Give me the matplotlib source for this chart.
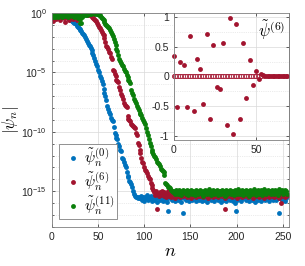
import numpy as np
import matplotlib
matplotlib.use("Agg")
import matplotlib.pyplot as plt
from matplotlib.ticker import FixedLocator, NullFormatter

plt.rcParams['font.family'] = ['Liberation Sans', 'DejaVu Sans']
plt.rcParams['mathtext.fontset'] = 'custom'
plt.rcParams['mathtext.rm'] = 'Liberation Sans'
plt.rcParams['mathtext.it'] = 'Liberation Sans:italic'

# log10 |psi_n| for n = 0..255
log_psi0 = [
    -0.1, -0.15, -0.1, -0.1, -0.12, -0.1, -0.15, -0.12, -0.15, -0.12, -0.18, -0.15, -0.2, -0.22, -0.28, -0.32,
    -0.35, -0.4, -0.45, -0.5, -0.55, -0.6, -0.65, -0.72, -0.8, -0.85, -0.95, -1.05, -1.15, -1.25, -1.35, -1.45,
    -1.55, -1.65, -1.75, -1.85, -2.0, -2.15, -2.35, -2.5, -2.65, -2.8, -2.95, -3.15, -3.35, -3.55, -3.8, -4.0,
    -4.25, -4.5, -4.8, -5.0, -5.3, -5.5, -5.75, -6.0, -6.4, -6.7, -7.0, -7.35, -7.8, -8.1, -8.3, -8.5,
    -8.8, -9.0, -9.1, -9.6, -10.1, -10.3, -10.5, -10.6, -11.0, -11.2, -11.5, -11.6, -12.2, -12.3, -12.5, -12.8,
    -13.0, -13.4, -13.7, -13.8, -14.1, -14.2, -14.4, -14.6, -15.0, -15.2, -15.4, -15.5, -15.5, -15.6, -15.5, -15.6,
    -15.6, -15.4, -15.7, -15.5, -15.8, -15.5, -15.6, -15.3, -15.7, -15.5, -15.6, -15.4, -15.8, -15.6, -15.5, -15.7,
    -15.4, -15.6, -15.9, -15.5, -15.3, -15.7, -15.6, -15.5, -15.8, -15.4, -15.6, -15.5, -15.7, -15.9, -16.7, -15.5,
    -15.6, -15.3, -15.7, -15.5, -15.4, -15.8, -15.6, -15.2, -15.5, -15.7, -15.4, -15.6, -15.9, -15.5, -16.8, -15.6,
    -15.4, -15.7, -15.5, -15.3, -15.6, -15.8, -15.5, -15.4, -15.7, -15.6, -15.2, -15.5, -15.8, -15.6, -15.4, -15.7,
    -15.5, -15.6, -15.3, -15.8, -15.5, -15.7, -15.4, -15.6, -15.9, -15.5, -15.3, -15.6, -15.7, -15.4, -15.6, -15.5,
    -15.8, -15.4, -15.6, -15.3, -15.7, -15.5, -15.6, -15.9, -15.4, -15.5, -15.7, -15.3, -15.6, -15.8, -15.5, -15.4,
    -15.6, -15.7, -15.3, -15.5, -15.8, -15.6, -16.0, -16.7, -15.4, -15.7, -15.5, -15.3, -15.6, -15.8, -15.4, -15.6,
    -15.5, -15.3, -15.7, -15.6, -15.4, -15.8, -15.5, -15.2, -15.6, -15.7, -15.4, -15.5, -15.9, -15.6, -15.3, -15.7,
    -15.5, -15.6, -15.4, -15.8, -15.3, -15.6, -15.5, -15.7, -15.4, -15.6, -15.2, -15.8, -15.5, -15.6, -15.4, -15.7,
    -15.6, -15.3, -15.5, -15.7, -15.4, -15.6, -16.8, -15.5, -15.3, -15.7, -15.6, -15.4, -15.8, -15.5, -15.6, -15.4,
]

log_psi6 = [
    -0.3, -0.7, -0.2, -0.25, -0.15, -0.5, -0.1, -0.35, -0.2, -0.6, -0.15, -0.3, -0.25, -0.45, -0.75, -0.2,
    -0.1, -0.4, -0.2, -0.55, -0.15, -0.3, -0.1, -0.5, -0.2, -0.25, -0.1, -0.6, -0.15, -0.35, -0.05, -0.2,
    -0.05, -0.1, 0.0, -0.05, -0.02, -0.1, -0.05, -0.15, -0.1, -0.2, -0.15, -0.3, -0.25, -0.4, -0.5, -0.6,
    -0.7, -0.85, -1.0, -1.15, -1.3, -1.45, -1.6, -1.75, -1.85, -2.1, -2.4, -2.8, -2.9, -3.0, -3.25, -3.4,
    -3.7, -3.9, -4.8, -4.9, -5.1, -5.3, -5.6, -5.7, -5.8, -6.2, -6.5, -6.8, -7.0, -7.2, -7.6, -7.7,
    -7.8, -7.9, -8.7, -8.9, -9.0, -9.1, -9.3, -9.4, -9.5, -9.6, -9.7, -10.1, -10.3, -10.9, -11.1, -11.5,
    -11.8, -12.2, -12.5, -12.6, -13.0, -13.2, -13.3, -13.5, -13.7, -13.9, -14.0, -14.3, -14.5, -14.7, -14.9, -15.1,
    -15.3, -15.0, -16.5, -15.2, -15.4, -15.1, -15.3, -15.0, -15.2, -15.4, -15.1, -15.3, -15.5, -15.2, -15.0, -15.4,
    -15.2, -15.5, -15.3, -15.1, -15.4, -15.6, -15.2, -15.3, -15.0, -15.4, -15.2, -15.5, -15.3, -15.1, -15.4, -15.2,
    -15.3, -15.1, -15.5, -15.2, -15.4, -15.3, -15.0, -15.6, -15.2, -15.4, -15.3, -15.1, -15.5, -15.2, -15.3, -15.4,
    -15.2, -15.4, -15.1, -15.3, -15.5, -15.2, -15.0, -15.4, -15.3, -15.6, -15.2, -15.1, -15.4, -15.3, -15.5, -15.2,
    -15.3, -15.1, -15.4, -15.2, -15.5, -15.3, -15.0, -15.2, -15.4, -15.1, -15.3, -15.6, -16.5, -15.2, -15.4, -15.3,
    -15.1, -15.4, -15.2, -15.5, -15.3, -15.0, -15.4, -15.2, -15.6, -15.3, -15.1, -15.4, -15.2, -15.3, -15.5, -15.1,
    -15.4, -15.2, -15.3, -15.1, -15.5, -15.2, -15.4, -15.3, -15.0, -15.2, -15.6, -15.3, -15.1, -15.4, -15.2, -15.3,
    -15.5, -15.2, -15.3, -15.1, -15.4, -15.2, -15.6, -15.3, -15.0, -15.4, -15.2, -15.5, -15.3, -15.1, -15.4, -15.2,
    -15.3, -15.5, -15.2, -15.4, -15.1, -15.3, -15.6, -15.2, -16.0, -15.4, -15.3, -15.1, -15.5, -15.2, -15.4, -15.3,
]

log_psi11 = [
    -0.2, -0.3, -0.15, -0.35, -0.1, -0.25, -0.2, -0.3, -0.15, -0.2, -0.1, -0.3, -0.2, -0.15, -0.25, -0.1,
    -0.2, -0.1, -0.3, -0.15, -0.2, -0.1, -0.25, -0.15, -0.3, -0.1, -0.2, -0.15, -0.4, -0.2, -0.5, -0.85,
    -0.85, -0.3, -0.2, -0.15, -0.1, -0.2, -0.15, -0.1, -0.05, -0.1, -0.05, -0.02, 0.0, -0.02, 0.0, -0.05,
    0.0, -0.05, -0.1, -0.15, -0.2, -0.3, -0.4, -0.5, -0.6, -0.75, -0.9, -1.0, -1.1, -1.2, -1.3, -1.45,
    -1.6, -1.8, -1.95, -2.2, -2.4, -2.7, -3.0, -3.2, -3.5, -3.9, -4.05, -4.2, -4.35, -4.5, -4.7, -4.85,
    -5.0, -5.2, -5.4, -5.6, -5.75, -5.9, -6.5, -6.7, -6.9, -7.2, -7.4, -7.6, -7.8, -8.0, -8.2, -8.4,
    -8.5, -8.6, -8.8, -9.0, -9.2, -9.3, -9.7, -10.0, -10.3, -10.6, -10.9, -11.2, -11.5, -11.7, -11.9, -12.0,
    -12.1, -12.3, -12.5, -12.6, -12.7, -12.9, -13.1, -13.2, -13.3, -13.4, -13.6, -14.3, -14.4, -14.5, -14.6, -14.6,
    -14.7, -14.9, -15.0, -15.1, -15.0, -15.2, -14.9, -15.1, -15.0, -15.2, -14.9, -15.1, -15.3, -15.0, -14.9, -15.1,
    -15.0, -15.2, -14.9, -15.1, -15.3, -15.0, -15.1, -14.9, -15.2, -15.0, -15.1, -15.3, -14.9, -15.0, -15.2, -15.1,
    -14.9, -15.1, -15.0, -15.2, -15.4, -15.0, -14.9, -15.1, -15.2, -15.0, -14.8, -15.1, -15.3, -15.0, -15.1, -14.9,
    -15.2, -15.0, -15.1, -14.9, -15.3, -15.1, -15.0, -15.2, -14.9, -15.1, -15.0, -15.4, -15.1, -14.9, -15.2, -15.0,
    -15.1, -14.9, -15.2, -15.0, -15.1, -15.3, -14.9, -15.0, -15.2, -15.1, -14.8, -15.0, -15.2, -15.1, -14.9, -15.3,
    -15.0, -15.1, -14.9, -15.2, -15.0, -15.4, -15.1, -14.9, -15.0, -15.2, -15.1, -14.8, -15.0, -15.3, -15.1, -14.9,
    -15.2, -15.0, -14.9, -15.1, -15.3, -15.0, -14.8, -15.1, -15.2, -15.0, -14.9, -15.1, -15.0, -15.2, -14.9, -15.1,
    -15.0, -15.2, -14.9, -15.1, -15.0, -15.3, -14.8, -15.0, -15.1, -14.9, -15.2, -15.0, -15.1, -14.9, -15.0, -15.2,
]

# inset: psi~(6), nonzero values at even n = 0..52, then small tail n = 53..69
inset_even = [0.34, -0.52, 0.24, 0.2, -0.52, 0.68, -0.58, 0.29, 0.12, -0.47, 0.71, -0.71, 0.53, -0.18,
              -0.21, 0.57, -0.82, 0.98, -0.97, 0.88, -0.71, 0.56, -0.37, 0.27, -0.15, 0.1, -0.04]
inset_tail = [0.05, 0.02, 0.01, 0.01, 0.0, 0.01, 0.0, 0.0, 0.01, 0.0, 0.0, 0.0, 0.0, 0.0, 0.0, 0.0, 0.0]

blue = '#0072BD'
red = '#A2142F'
green = '#0B7F0B'
gridc = '#d9d9d9'

n = np.arange(len(log_psi0))

fig = plt.figure(figsize=(3.05, 2.66), dpi=100)
ax = fig.add_axes([0.170, 0.147, 0.778, 0.804])

ms = 3.5
ax.plot(n, 10.0 ** np.array(log_psi0), 'o', color=blue, ms=ms, mew=0, label=r'$\tilde{\psi}_n^{(0)}$')
ax.plot(n, 10.0 ** np.array(log_psi6), 'o', color=red, ms=ms, mew=0, label=r'$\tilde{\psi}_n^{(6)}$')
ax.plot(n, 10.0 ** np.array(log_psi11), 'o', color=green, ms=ms, mew=0, label=r'$\tilde{\psi}_n^{(11)}$')

ax.set_yscale('log')
ax.set_xlim(0, 257)
ax.set_ylim(1e-18, 1.0)
ax.yaxis.set_major_locator(FixedLocator([1e-15, 1e-10, 1e-5, 1.0]))
ax.yaxis.set_minor_locator(FixedLocator([10.0 ** k for k in range(-18, 1) if k % 5 != 0]))
ax.yaxis.set_minor_formatter(NullFormatter())
ax.set_yticklabels([r'$10^{-15}$', r'$10^{-10}$', r'$10^{-5}$', r'$10^{0}$'])
ax.set_xticks([0, 50, 100, 150, 200, 250])
ax.tick_params(which='both', direction='in', top=True, right=True, labelsize=7.5,
               colors='#262626', length=2.5, width=0.5)
ax.tick_params(which='minor', length=1.5)
ax.grid(True, which='major', color=gridc, lw=0.5)
ax.grid(True, which='minor', axis='y', color=gridc, lw=0.5, ls=':')
for s in ax.spines.values():
    s.set_color('#808080')
    s.set_linewidth(0.6)

ax.set_xlabel(r'$n$', fontsize=13, math_fontfamily='cm', labelpad=1)
ax.set_ylabel(r'$|\psi_n|$', fontsize=12, math_fontfamily='cm', labelpad=0)

leg = ax.legend(loc='lower left', bbox_to_anchor=(0.03, 0.035), prop={'size': 11},
                handletextpad=0.0, handlelength=1.5, borderpad=0.15, labelspacing=0.1,
                borderaxespad=0, fancybox=False, framealpha=1, edgecolor='#808080')
for t in leg.get_texts():
    t.set_math_fontfamily('cm')
leg.get_frame().set_linewidth(0.6)

# inset
ins = fig.add_axes([0.570, 0.474, 0.378, 0.477])
n_open = np.arange(0, 54)
ins.plot(n_open, np.zeros(len(n_open)), 'o', mfc='white', mec=red, ms=3.0, mew=0.6, clip_on=False)
n_even = np.arange(0, 2 * len(inset_even), 2)
ins.plot(n_even, inset_even, 'o', color=red, ms=ms, mew=0, clip_on=False)
n_tail = np.arange(53, 53 + len(inset_tail))
ins.plot(n_tail, inset_tail, 'o', color=red, ms=ms, mew=0)
ins.set_xlim(0, 70)
ins.set_ylim(-1.07, 1.07)
ins.set_xticks([0, 50])
ins.set_yticks([-1, -0.5, 0, 0.5, 1])
ins.set_yticklabels(['-1', '-0.5', '0', '0.5', '1'])
ins.yaxis.set_minor_locator(FixedLocator([-0.75, -0.25, 0.25, 0.75]))
ins.tick_params(which='both', direction='in', top=True, right=True, labelsize=7.5,
                colors='#262626', length=2.5, width=0.5)
ins.tick_params(which='minor', length=0)
ins.grid(True, which='major', color=gridc, lw=0.5)
ins.grid(True, which='minor', axis='y', color=gridc, lw=0.5, ls=':')
for s in ins.spines.values():
    s.set_color('#808080')
    s.set_linewidth(0.6)
ins.text(0.97, 0.87, r'$\tilde{\psi}^{(6)}$', transform=ins.transAxes, ha='right', va='center',
         fontsize=12, math_fontfamily='cm')

fig.savefig('out.png', dpi=100)
